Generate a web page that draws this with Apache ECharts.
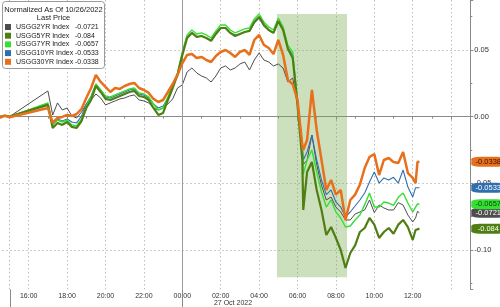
<!DOCTYPE html>
<html><head><meta charset="utf-8">
<script src="https://cdn.jsdelivr.net/npm/echarts@6/dist/echarts.min.js"></script>
<style>html,body{margin:0;padding:0;background:#fff}#c{width:500px;height:307px}</style>
</head><body><div id="c"></div>
<script>
// time in hours since 26 Oct 2022 00:00 (24 = 27 Oct 00:00)
const times = [14.5,14.75,15.0,17.0,17.25,17.5,17.75,18,18.25,18.5,18.75,19,19.25,19.5,19.75,20,20.25,20.5,20.75,21,21.25,21.5,21.75,22,22.25,22.5,22.75,23,23.25,23.5,23.75,24,24.25,24.5,24.75,25,25.25,25.5,25.75,26,26.25,26.5,26.75,27,27.25,27.5,27.75,28,28.25,28.5,28.75,29,29.25,29.5,29.75,30,30.25,30.3,30.5,30.75,31,31.25,31.5,31.75,32,32.25,32.5,32.75,33,33.25,33.5,33.75,34,34.25,34.5,34.75,35,35.25,35.5,35.75,36,36.15,36.25,36.35];
const usgg2yr = [0,0.0005,0,0.0193,0.0012,0.0103,0.005,0.0065,0.0005,-0.001,0.0035,0.0095,0.0125,0.017,0.014,0.0088,0.0103,0.0118,0.0133,0.014,0.0155,0.0163,0.0125,0.0118,0.0103,0.0065,0.005,0.0065,0.0095,0.0133,0.0215,0.0238,0.0335,0.0365,0.0328,0.0305,0.029,0.026,0.0305,0.0365,0.038,0.035,0.0365,0.0395,0.041,0.035,0.0425,0.0478,0.0425,0.041,0.038,0.0395,0.0365,0.026,0.029,0.0088,-0.0213,-0.036,-0.0325,-0.0138,-0.036,-0.0515,-0.0625,-0.0603,-0.0678,-0.0715,-0.0775,-0.0775,-0.073,-0.0715,-0.07,-0.0625,-0.072,-0.0663,-0.0685,-0.07,-0.07,-0.0645,-0.0663,-0.0738,-0.079,-0.076,-0.071,-0.0721];
const usgg5yr = [0,0.0005,0,0.0088,-0.0085,-0.0048,-0.0062,-0.004,-0.0077,-0.0085,-0.0033,0.0065,0.0125,0.023,0.0185,0.0133,0.0125,0.014,0.0155,0.017,0.0185,0.0193,0.0155,0.0148,0.0125,0.0065,0.0013,0.0028,0.0125,0.0215,0.0313,0.046,0.059,0.0628,0.0598,0.0605,0.059,0.0568,0.062,0.0665,0.0665,0.0628,0.0605,0.062,0.0635,0.0643,0.071,0.0748,0.0688,0.065,0.0628,0.0718,0.065,0.051,0.044,0.0088,-0.0325,-0.07,-0.0415,-0.034,-0.055,-0.07,-0.0888,-0.0828,-0.091,-0.1,-0.1135,-0.1023,-0.0965,-0.0865,-0.0835,-0.076,-0.081,-0.091,-0.0865,-0.0835,-0.0878,-0.081,-0.0775,-0.0828,-0.0925,-0.085,-0.084,-0.084];
const usgg7yr = [0,0.0005,0,0.0103,-0.0062,-0.0025,-0.004,-0.0025,-0.0062,-0.007,-0.0017,0.008,0.0148,0.0245,0.02,0.0155,0.0148,0.0163,0.0178,0.0193,0.0208,0.0215,0.0178,0.017,0.0148,0.0095,0.005,0.0065,0.0148,0.0238,0.0328,0.0485,0.0613,0.065,0.062,0.0628,0.0613,0.059,0.0643,0.0688,0.0688,0.065,0.0628,0.0643,0.0658,0.0665,0.0733,0.077,0.071,0.0673,0.065,0.074,0.0673,0.0535,0.0485,0.0125,-0.0228,-0.0433,-0.0325,-0.025,-0.0415,-0.0565,-0.0678,-0.0625,-0.0715,-0.076,-0.0828,-0.082,-0.0775,-0.0738,-0.066,-0.0573,-0.0678,-0.0678,-0.064,-0.0648,-0.0665,-0.0605,-0.0573,-0.0648,-0.0715,-0.0678,-0.0655,-0.0657];
const usgg10yr = [0,0.0005,0,0.0095,-0.0055,-0.0017,-0.0032,-0.0017,-0.004,-0.0047,0.0005,0.0095,0.0155,0.0245,0.02,0.0148,0.014,0.0155,0.017,0.0185,0.02,0.0208,0.017,0.0163,0.014,0.0095,0.0065,0.008,0.014,0.023,0.032,0.047,0.0598,0.0628,0.0598,0.0605,0.059,0.0575,0.0628,0.0665,0.0665,0.0628,0.0613,0.062,0.0635,0.0643,0.0703,0.074,0.068,0.065,0.0628,0.071,0.065,0.051,0.0463,0.0125,-0.0213,-0.0325,-0.0265,-0.0138,-0.0325,-0.0475,-0.0585,-0.055,-0.064,-0.0678,-0.0753,-0.0715,-0.067,-0.0625,-0.0573,-0.049,-0.0415,-0.0498,-0.046,-0.0475,-0.0455,-0.0498,-0.04,-0.0528,-0.0603,-0.0533,-0.0528,-0.0533];
const usgg30yr = [-0.001,0.001,-0.0005,0.0065,-0.0047,-0.001,-0.0002,0.0013,0.0005,0.002,0.0058,0.014,0.0215,0.0313,0.026,0.0223,0.0185,0.0215,0.0208,0.023,0.0245,0.0253,0.0215,0.02,0.0178,0.0133,0.011,0.0125,0.0185,0.0245,0.0313,0.04,0.0463,0.047,0.044,0.0448,0.0425,0.041,0.0455,0.0485,0.05,0.0478,0.0448,0.0485,0.05,0.0463,0.0575,0.0613,0.0538,0.0515,0.047,0.0575,0.0463,0.0275,0.0243,0.0125,-0.0213,-0.025,-0.0175,0.02,-0.01,-0.0325,-0.055,-0.0475,-0.0585,-0.055,-0.0775,-0.0625,-0.0585,-0.051,-0.0385,-0.0303,-0.028,-0.0438,-0.0325,-0.031,-0.034,-0.0347,-0.0265,-0.0423,-0.046,-0.0498,-0.034,-0.0338];

const seriesNames = ['USGG2YR Index','USGG5YR Index','USGG7YR Index','USGG10YR Index','USGG30YR Index'];
const lastPrices = [-0.0721,-0.084,-0.0657,-0.0533,-0.0338];
const seriesValues = [usgg2yr, usgg5yr, usgg7yr, usgg10yr, usgg30yr];
const legendTitle = ['Normalized As Of 10/26/2022', 'Last Price'];
const dateLabel = '27 Oct 2022';
const shadeRange = [[28.93, 0.077], [32.58, -0.1205]];
const sessionLines = [15, 24];

const colors = ['#4d4d4d','#4f7f12','#33e033','#2f6fb0','#e8701c'];
const badgeText = ['#ffffff','#ffffff','#114411','#ffffff','#331100'];
const widths = [1, 2.2, 1.4, 1.1, 2.5];
const zs = [3, 5, 4, 3, 6];
const FONT = "'Liberation Sans',Arial,sans-serif";
const X_MIN = 14, X_MAX = 39;

const chart = echarts.init(document.getElementById('c'), null, {renderer:'canvas'});

const series = seriesNames.map((n, i) => ({
  name: n, type: 'line', animation: false, symbol: 'none', showSymbol: false,
  data: times.map((t, j) => [t, seriesValues[i][j]]),
  lineStyle: {color: colors[i], width: widths[i]},
  itemStyle: {color: colors[i]}, z: zs[i],
  emphasis: {disabled: true},
  markPoint: {
    silent: true, animation: false, symbol: 'roundRect', symbolSize: [34, 10], symbolOffset: [18, 0],
    itemStyle: {color: colors[i]},
    label: {show: true, formatter: String(lastPrices[i]), color: badgeText[i], fontSize: 7.5, fontFamily: FONT},
    data: [{coord: [X_MAX, lastPrices[i]]}]
  }
}));

series.unshift({
  name: 'bg', type: 'line', data: [], z: 1, animation: false, silent: true,
  markArea: {silent: true, itemStyle: {color: 'rgba(120,170,80,0.37)'},
    data: [[{coord: shadeRange[0]}, {coord: shadeRange[1]}]]},
  markLine: {silent: true, symbol: 'none', animation: false, label: {show: false},
    data: [{xAxis: sessionLines[0], lineStyle: {color: '#bbb', type: [1.5, 2.5], width: 1}},
           {xAxis: sessionLines[1], lineStyle: {color: '#9a9a9a', type: 'solid', width: 1}}]}
});

const pad2 = v => (v < 10 ? '0' : '') + v;

chart.setOption({
  animation: false,
  backgroundColor: '#fff',
  grid: {left: -9.7, right: 29.7, top: 0, bottom: 17.7, containLabel: false, outerBoundsMode: 'none'},
  xAxis: {
    type: 'value', min: X_MIN, max: X_MAX, interval: 2,
    axisLine: {show: true, lineStyle: {color: '#8a8a8a'}},
    axisTick: {show: true, length: 3, lineStyle: {color: '#8a8a8a'}},
    minorTick: {show: true, splitNumber: 2, length: 2, lineStyle: {color: '#8a8a8a'}},
    splitLine: {show: true, lineStyle: {color: '#bdbdbd', type: [1.5, 2.5], width: 1}},
    axisLabel: {fontSize: 7, fontFamily: FONT, color: '#333', margin: 3,
      formatter: v => (v > 36 || v < 15 ? '' : pad2(v % 24) + ':00')}
  },
  yAxis: {
    type: 'value', position: 'right', min: -0.1295, max: 0.0875, scale: false,
    axisLine: {show: true, lineStyle: {color: '#8a8a8a'}},
    axisTick: {show: true, length: 3, lineStyle: {color: '#8a8a8a'}},
    minorTick: {show: true, splitNumber: 2, length: 2, lineStyle: {color: '#8a8a8a'}},
    splitLine: {show: true, showMinLine: false, showMaxLine: false, lineStyle: {color: '#bdbdbd', type: [1.5, 2.5], width: 1}},
    axisLabel: {fontSize: 7.5, fontFamily: FONT, color: '#333', margin: 4, showMinLabel: false, showMaxLabel: false,
      formatter: v => v.toFixed(2)}
  },
  legend: {
    data: seriesNames, orient: 'vertical', left: 5, top: 23.5, icon: 'rect', itemWidth: 6, itemHeight: 6,
    itemGap: 1.7, selectedMode: false, padding: 0, z: 10,
    formatter: name => `{n|${name}}{v|${lastPrices[seriesNames.indexOf(name)]}}`,
    textStyle: {fontFamily: FONT, fontSize: 7, color: '#222',
      rich: {n: {width: 59, fontSize: 7, lineHeight: 7, fontFamily: FONT, color: '#222', overflow: 'none'},
             v: {fontSize: 7, lineHeight: 7, fontFamily: FONT, color: '#222'}}}
  },
  series: series
});

const xs = sessionLines.map(h => chart.convertToPixel({xAxisIndex: 0}, h));
const axisY = chart.convertToPixel({yAxisIndex: 0}, -0.1295);
chart.setOption({
  graphic: [
    {type: 'rect', z: 8, shape: {x: 2.5, y: 1.5, width: 102, height: 67, r: 3},
     style: {fill: '#fff', stroke: '#9a9a9a', lineWidth: 1}},
    {type: 'text', z: 9, x: 53.5, y: 10, style: {text: legendTitle[0], fontSize: 7.5, fontFamily: FONT, fill: '#222', align: 'center', verticalAlign: 'middle'}},
    {type: 'text', z: 9, x: 53.5, y: 18, style: {text: legendTitle[1], fontSize: 7.5, fontFamily: FONT, fill: '#222', align: 'center', verticalAlign: 'middle'}},
    ...xs.map(x => ({type: 'line', z: 9, shape: {x1: Math.round(x) + 0.5, y1: axisY, x2: Math.round(x) + 0.5, y2: 307},
      style: {stroke: '#8a8a8a', lineWidth: 1}})),
    {type: 'text', z: 9, x: 233, y: 303, style: {text: dateLabel, fontSize: 7, fontFamily: FONT, fill: '#333', align: 'center', verticalAlign: 'middle'}}
  ]
});
</script></body></html>
